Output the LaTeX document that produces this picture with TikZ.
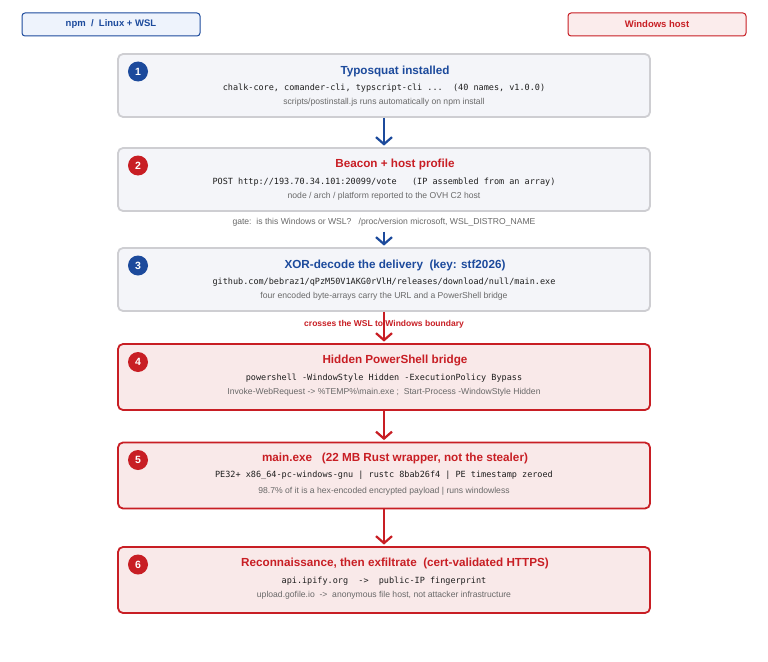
\documentclass[tikz,border=0pt]{standalone}
\usepackage{fontspec}
\setmainfont{Liberation Sans}
\setmonofont{DejaVu Sans Mono}
\usetikzlibrary{arrows.meta}
\definecolor{bblue}{RGB}{28,74,156}
\definecolor{rred}{RGB}{200,30,36}
\definecolor{gtext}{RGB}{105,105,105}
\definecolor{mtext}{RGB}{30,30,30}
\definecolor{bfill}{RGB}{244,245,249}
\definecolor{bline}{RGB}{206,206,210}
\definecolor{rfill}{RGB}{249,233,233}
\definecolor{lfillb}{RGB}{238,243,252}
\definecolor{lfillr}{RGB}{251,236,236}
\tikzset{
  stepblue/.style={draw=bline, fill=bfill, line width=1.8pt, rounded corners=5pt, minimum width=532pt, minimum height=63pt, inner sep=0pt},
  stepred/.style={draw=rred, fill=rfill, line width=1.8pt, rounded corners=5pt, minimum width=532pt, minimum height=66pt, inner sep=0pt},
  badge/.style={circle, minimum size=20pt, inner sep=0pt, text=white, font=\fontsize{10.5}{12}\selectfont\bfseries},
  ttl/.style={inner sep=0pt, font=\fontsize{11.7}{14}\selectfont\bfseries},
  mono/.style={inner sep=0pt, text=mtext, font=\fontsize{8.5}{10}\selectfont\ttfamily},
  note/.style={inner sep=0pt, text=gtext, font=\fontsize{8.6}{10}\selectfont},
  legbox/.style={rounded corners=3pt, line width=1pt, minimum width=178pt, minimum height=23pt, inner sep=0pt, font=\fontsize{9.5}{11}\selectfont\bfseries},
  flowb/.style={draw=bblue, line width=2.6pt, -{Straight Barb[length=7pt,width=16pt,line width=2.2pt]}, shorten >=1.5pt},
  flowr/.style={draw=rred, line width=2.6pt, -{Straight Barb[length=7pt,width=16pt,line width=2.2pt]}, shorten >=1.5pt}
}
\begin{document}
\begin{tikzpicture}[x=1pt,y=-1pt]
\useasboundingbox[fill=white] (0,0) rectangle (768,661);
% legend
\node[legbox, draw=bblue, fill=lfillb, text=bblue] (lg1) at (111,24.5) {npm~~/~~Linux + WSL};
\node[legbox, draw=rred, fill=lfillr, text=rred] (lg2) at (657,24.5) {Windows host};
% boxes
\node[stepblue] (b1) at (384,85.5) {};
\node[stepblue] (b2) at (384,179.5) {};
\node[stepblue] (b3) at (384,279.5) {};
\node[stepred] (b4) at (384,377) {};
\node[stepred] (b5) at (384,475.5) {};
\node[stepred] (b6) at (384,580) {};
% badges
\node[badge, fill=bblue] (n1) at (138,71.5) {1};
\node[badge, fill=rred] (n2) at (138,165.5) {2};
\node[badge, fill=bblue] (n3) at (138,265.5) {3};
\node[badge, fill=rred] (n4) at (138,362) {4};
\node[badge, fill=rred] (n5) at (138,460) {5};
\node[badge, fill=rred] (n6) at (138,564.5) {6};
% box 1
\node[ttl, text=bblue] (t1) at (395,71) {Typosquat installed};
\node[mono] (m1) at (384,88.5) {chalk-core, comander-cli, typscript-cli ...~~(40 names, v1.0.0)};
\node[note] (g1) at (384,102.7) {scripts/postinstall.js runs automatically on npm install};
% box 2
\node[ttl, text=rred] (t2) at (395,164.5) {Beacon + host profile};
\node[mono] (m2) at (384,182) {POST http://193.70.34.101:20099/vote~~~(IP assembled from an array)};
\node[note] (g2) at (384,196.7) {node / arch / platform reported to the OVH C2 host};
% gate
\node[note] (gate) at (384,222.3) {gate:~~is this Windows or WSL?~~~/proc/version microsoft, WSL\_DISTRO\_NAME};
% box 3
\node[ttl, text=bblue] (t3) at (395,265) {XOR-decode the delivery~~(key: stf2026)};
\node[mono] (m3) at (384,282.3) {github.com/bebraz1/qPzM50V1AKG0rVlH/releases/download/null/main.exe};
\node[note] (g3) at (384,296.7) {four encoded byte-arrays carry the URL and a PowerShell bridge};
% crossing label
\node[inner sep=0pt, text=rred, font=\fontsize{8.5}{10}\selectfont\bfseries] (cross) at (384,324.7) {crosses the WSL to Windows boundary};
% box 4
\node[ttl, text=rred] (t4) at (395,360.7) {Hidden PowerShell bridge};
\node[mono] (m4) at (384,378) {powershell -WindowStyle Hidden -ExecutionPolicy Bypass};
\node[note] (g4) at (384,392.7) {Invoke-WebRequest -> \%TEMP\%\textbackslash main.exe ;~~Start-Process -WindowStyle Hidden};
% box 5
\node[ttl, text=rred] (t5) at (395,458.7) {main.exe~~~(22 MB Rust wrapper, not the stealer)};
\node[mono] (m5) at (384,475.7) {PE32+ x86\_64-pc-windows-gnu | rustc 8bab26f4 | PE timestamp zeroed};
\node[note] (g5) at (384,491) {98.7\% of it is a hex-encoded encrypted payload | runs windowless};
% box 6
\node[ttl, text=rred] (t6) at (395,563.3) {Reconnaissance, then exfiltrate~~(cert-validated HTTPS)};
\node[mono] (m6) at (384,580.7) {api.ipify.org~~->~~public-IP fingerprint};
\node[note] (g6) at (384,595.7) {upload.gofile.io~~->~~anonymous file host, not attacker infrastructure};
% connectors
\draw[flowb] (b1.south) -- (b2.north);
\draw[flowb, shorten <=5pt] (gate.south) -- (b3.north);
\draw[flowr] (b3.south) -- (b4.north);
\draw[flowr] (b4.south) -- (b5.north);
\draw[flowr] (b5.south) -- (b6.north);
\end{tikzpicture}
\end{document}
